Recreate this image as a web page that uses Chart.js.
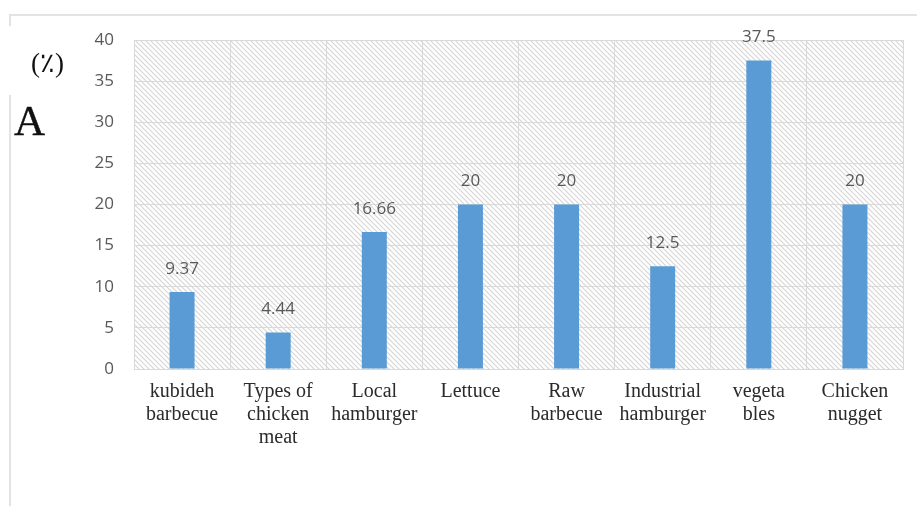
<!DOCTYPE html>
<html>
<head>
<meta charset="utf-8">
<script src="https://cdn.jsdelivr.net/npm/chart.js@4/dist/chart.umd.min.js"></script>
<style>
  html, body { margin: 0; padding: 0; background: #fff; }
  #wrap { position: relative; width: 917px; height: 506px; overflow: hidden; }
  #c { position: absolute; left: 0; top: 0; }
  .ln { position: absolute; background: #e3e3e3; }
  .txt { position: absolute; font-family: "Liberation Serif", "DejaVu Serif", serif; color: #111; white-space: nowrap; }
</style>
</head>
<body>
<div id="wrap">
  <canvas id="c" width="917" height="506"></canvas>
  <div class="ln" style="left:9px; top:14px; width:908px; height:2px;"></div>
  <div class="ln" style="left:9px; top:14px; width:2px; height:12px;"></div>
  <div class="ln" style="left:9px; top:95px; width:2px; height:411px;"></div>
  <div class="txt" style="left:31px; top:47px; font-size:27px; line-height:32px;">(٪)</div>
  <div class="txt" style="left:14px; top:97px; font-size:43px; line-height:48px; -webkit-text-stroke:0.4px #111;">A</div>
</div>
<script>
const categories = [
  ["kubideh", "barbecue"],
  ["Types of", "chicken", "meat"],
  ["Local", "hamburger"],
  ["Lettuce"],
  ["Raw", "barbecue"],
  ["Industrial", "hamburger"],
  ["vegeta", "bles"],
  ["Chicken", "nugget"]
];
const values = [9.37, 4.44, 16.66, 20, 20, 12.5, 37.5, 20];
const valueLabels = ["9.37", "4.44", "16.66", "20", "20", "12.5", "37.5", "20"];
const yTicks = [0, 5, 10, 15, 20, 25, 30, 35, 40];

function makePattern(ctx) {
  const n = 5;
  const pc = document.createElement('canvas');
  pc.width = n; pc.height = n;
  const p = pc.getContext('2d');
  p.fillStyle = '#ffffff';
  p.fillRect(0, 0, n, n);
  p.strokeStyle = '#d6d6d6';
  p.lineWidth = 1.2;
  p.beginPath();
  p.moveTo(-1, -1); p.lineTo(n + 1, n + 1);
  p.moveTo(-1, n - 1); p.lineTo(1, n + 1);
  p.moveTo(n - 1, -1); p.lineTo(n + 1, 1);
  p.stroke();
  return ctx.createPattern(pc, 'repeat');
}

const hatchPlugin = {
  id: 'hatch',
  beforeDraw(chart) {
    const { ctx, chartArea: a } = chart;
    ctx.save();
    ctx.fillStyle = makePattern(ctx);
    ctx.fillRect(a.left, a.top, a.right - a.left, a.bottom - a.top);
    ctx.restore();
  }
};

const valueLabelPlugin = {
  id: 'valueLabels',
  afterDatasetsDraw(chart) {
    const { ctx } = chart;
    const meta = chart.getDatasetMeta(0);
    ctx.save();
    ctx.font = '17px "Open Sans", "Liberation Sans", sans-serif';
    ctx.fillStyle = '#595959';
    ctx.textAlign = 'center';
    ctx.textBaseline = 'middle';
    meta.data.forEach((bar, i) => {
      ctx.fillText(valueLabels[i], bar.x, bar.y - 23);
    });
    ctx.restore();
  }
};

new Chart(document.getElementById('c'), {
  type: 'bar',
  data: {
    labels: categories,
    datasets: [{
      data: values,
      backgroundColor: '#5b9bd5',
      borderWidth: 0,
      barPercentage: 0.26,
      categoryPercentage: 1.0
    }]
  },
  options: {
    responsive: false,
    animation: false,
    devicePixelRatio: 1,
    layout: { padding: { top: 40, right: 14, bottom: 0, left: 0 } },
    plugins: { legend: { display: false }, tooltip: { enabled: false } },
    scales: {
      x: {
        afterFit(s) { s.height = 137; },
        grid: { color: '#d9d9d9', lineWidth: 1, drawTicks: false, offset: true },
        border: { color: '#d9d9d9' },
        ticks: {
          padding: 11,
          color: '#2b2b2b',
          maxRotation: 0,
          autoSkip: false,
          font: { family: '"Liberation Serif", "DejaVu Serif", serif', size: 20, lineHeight: 1.15 }
        }
      },
      y: {
        min: 0, max: 40,
        afterFit(s) { s.width = 134; },
        afterBuildTicks(s) { s.ticks = yTicks.map(v => ({ value: v })); },
        grid: { color: '#d9d9d9', lineWidth: 1, drawTicks: false },
        border: { color: '#d9d9d9' },
        ticks: {
          padding: 20,
          color: '#595959',
          font: { family: '"Open Sans", "Liberation Sans", sans-serif', size: 17 }
        }
      }
    }
  },
  plugins: [hatchPlugin, valueLabelPlugin]
});
</script>
</body>
</html>
